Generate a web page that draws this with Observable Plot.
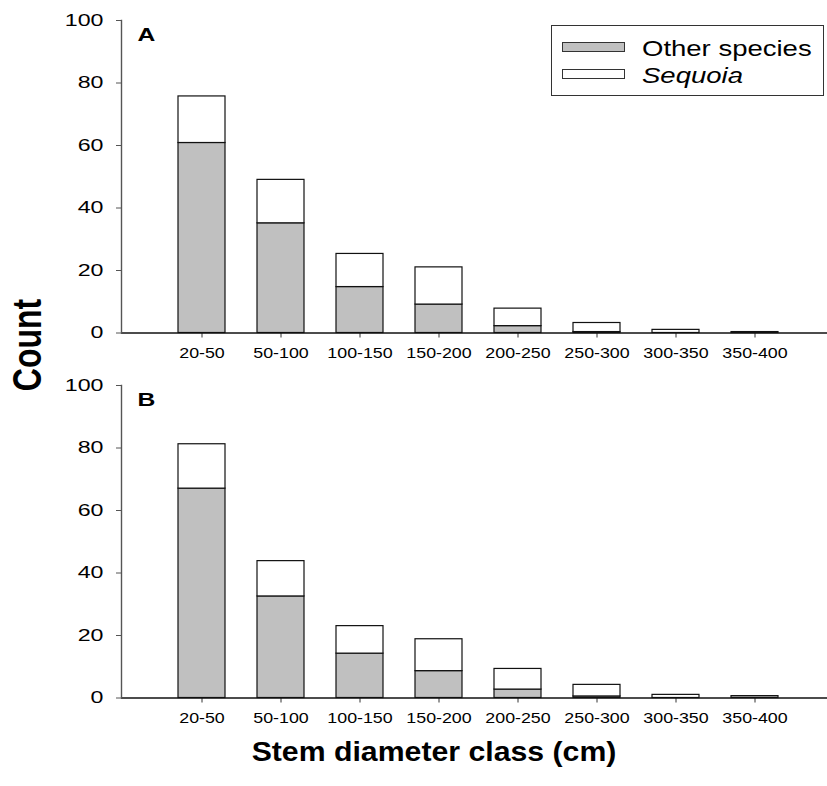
<!DOCTYPE html>
<html>
<head>
<meta charset="utf-8">
<script src="https://cdn.jsdelivr.net/npm/d3@7"></script>
<script src="https://cdn.jsdelivr.net/npm/@observablehq/plot@0.6"></script>
<style>
  html, body { margin: 0; padding: 0; background: #ffffff; }
  body { font-family: "Liberation Sans", Arial, sans-serif; color: #000; }
  #wrap { position: relative; width: 827px; height: 786px; overflow: hidden; }
  .panel { position: absolute; left: 0; }
  .legend { position: absolute; left: 551px; top: 25px; width: 271px; height: 69px; border: 1.3px solid #333; background: #fff; }
  .sw { position: absolute; left: 10px; width: 61px; height: 8px; border: 1.2px solid #333; }
  .lt { position: absolute; left: 90px; font-size: 22px; line-height: 22px; transform-origin: 0 50%; transform: scaleX(1.25); white-space: nowrap; }
  .ytitle { position: absolute; left: 27px; top: 345px; font-size: 32px; font-weight: bold; white-space: nowrap;
            transform: translate(-50%, -50%) rotate(-90deg) scale(1, 1.25); line-height: 32px; }
  .xtitle { position: absolute; left: 434px; top: 738px; font-size: 28px; font-weight: bold; line-height: 28px; white-space: nowrap;
            transform: translateX(-50%) scaleX(1.08); }
</style>
</head>
<body>
<div id="wrap"></div>
<script>
// ---- data ----
const classes = ["20-50", "50-100", "100-150", "150-200", "200-250", "250-300", "300-350", "350-400"];
const species = ["Other species", "Sequoia"];
const otherA   = [60.8, 35.1, 14.7, 9.1, 2.2, 0.3, 0.0, 0.0];
const sequoiaA = [14.9, 13.9, 10.6, 11.9, 5.6, 2.9, 1.0, 0.3];
const otherB   = [67.0, 32.5, 14.2, 8.6, 2.7, 0.5, 0.0, 0.6];
const sequoiaB = [14.2, 11.3, 8.8, 10.2, 6.6, 3.7, 1.0, 0.0];
const yTicks = [0, 20, 40, 60, 80, 100];
const panelLabels = ["A", "B"];
const speciesColors = ["#c0c0c0", "#ffffff"];
const yTitle = "Count";
const xTitle = "Stem diameter class (cm)";

function rows(other, seq) {
  return classes.flatMap((c, i) => [
    {cls: c, species: species[0], count: other[i]},
    {cls: c, species: species[1], count: seq[i]}
  ]);
}

// widen glyphs horizontally around each text's own anchor
function stretch(svg, selector, sx) {
  svg.querySelectorAll(selector).forEach(t => {
    const tr = t.getAttribute("transform") || "";
    t.setAttribute("transform", `${tr} scale(${sx},1)`);
  });
}

function panel(label, other, seq) {
  const H = 370;
  const svg = Plot.plot({
    width: 827, height: H,
    marginLeft: 121, marginRight: 0, marginTop: 20, marginBottom: H - 332.5,
    style: {fontFamily: "'Liberation Sans', Arial, sans-serif", background: "transparent", color: "black", overflow: "visible"},
    x: {domain: classes, range: [121, 836], paddingInner: 0.4, paddingOuter: 0.7, align: 0.5, label: null},
    y: {domain: [0, 100], label: null},
    color: {domain: species, range: speciesColors},
    marks: [
      Plot.barY(rows(other, seq), Plot.stackY({x: "cls", y: "count", fill: "species", stroke: "#111", strokeWidth: 1.2})),
      Plot.axisY({ticks: yTicks, tickSize: 5, tickPadding: 13, fontSize: 16, stroke: "#555"}),
      Plot.axisX({tickSize: 5, tickPadding: 9, fontSize: 15.5, stroke: "#333"}),
      Plot.ruleY([0], {stroke: "#111", strokeWidth: 1.4}),
      Plot.frame({anchor: "left", stroke: "#555", strokeWidth: 1.4}),
      Plot.text([label], {frameAnchor: "top-left", dx: 16, dy: 7, fontSize: 19, fontWeight: "bold", textAnchor: "start", lineAnchor: "top"})
    ]
  });
  stretch(svg, '[aria-label="y-axis tick label"] text', 1.45);
  stretch(svg, '[aria-label="x-axis tick label"] text', 1.15);
  stretch(svg, 'g[aria-label="text"] text', 1.3);
  return svg;
}

const wrap = document.getElementById("wrap");
const a = panel(panelLabels[0], otherA, sequoiaA);
a.classList.add("panel"); a.style.top = "0px";
const b = panel(panelLabels[1], otherB, sequoiaB);
b.classList.add("panel"); b.style.top = "365px";
wrap.appendChild(a);
wrap.appendChild(b);

// legend (inside panel A)
const lg = document.createElement("div");
lg.className = "legend";
species.forEach((s, i) => {
  const sw = document.createElement("div");
  sw.className = "sw";
  sw.style.top = (i === 0 ? 16 : 43) + "px";
  sw.style.background = speciesColors[i];
  lg.appendChild(sw);
  const t = document.createElement("div");
  t.className = "lt";
  t.style.top = (i === 0 ? 12 : 39) + "px";
  if (i === 1) t.style.fontStyle = "italic";
  t.textContent = s;
  lg.appendChild(t);
});
wrap.appendChild(lg);

const yt = document.createElement("div");
yt.className = "ytitle"; yt.textContent = yTitle;
wrap.appendChild(yt);
const xt = document.createElement("div");
xt.className = "xtitle"; xt.textContent = xTitle;
wrap.appendChild(xt);
</script>
</body>
</html>
